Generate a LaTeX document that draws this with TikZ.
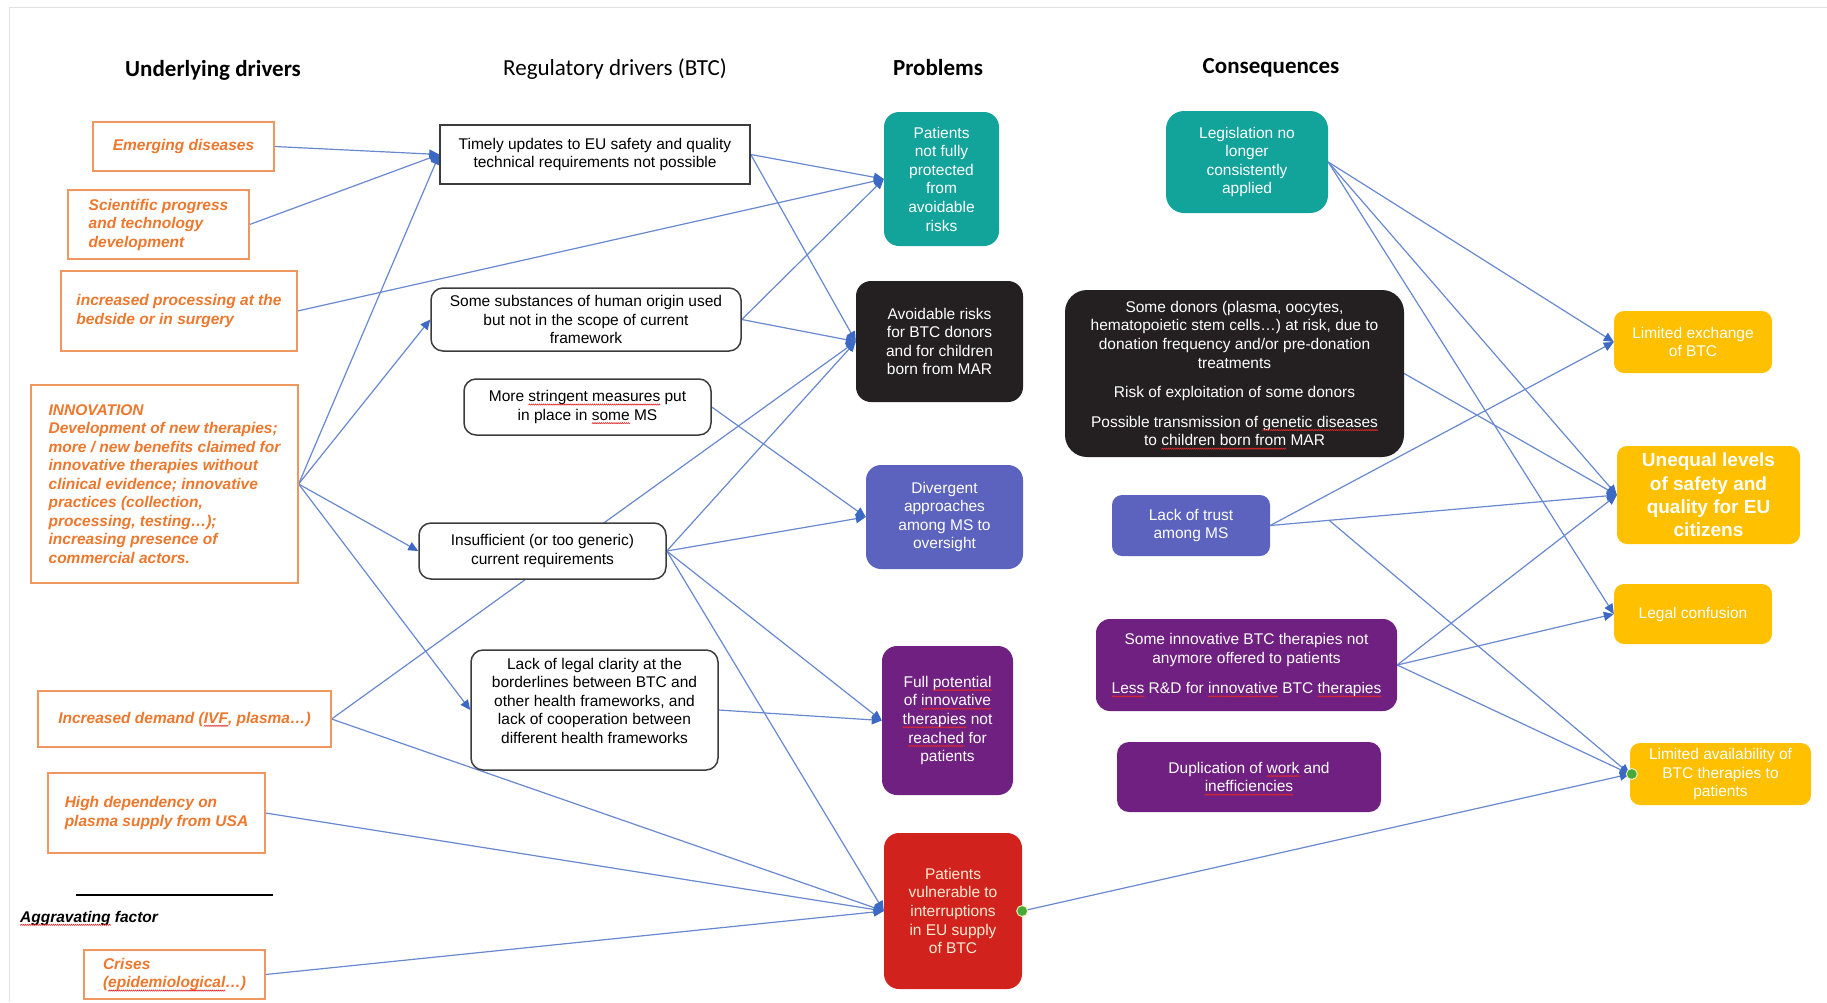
\documentclass[tikz,border=0pt]{standalone}
\usepackage{fontspec}
\setmainfont{Liberation Sans}
\newfontfamily\headfont{Carlito}
\usetikzlibrary{arrows.meta,calc,backgrounds}

\definecolor{drvtext}{RGB}{237,120,45}
\definecolor{drvline}{RGB}{240,150,95}
\definecolor{regline}{RGB}{60,60,60}
\definecolor{cteal}{RGB}{18,163,155}
\definecolor{cdark}{RGB}{36,31,32}
\definecolor{cslate}{RGB}{92,99,190}
\definecolor{cpurple}{RGB}{112,32,128}
\definecolor{cred}{RGB}{210,34,30}
\definecolor{cyellow}{RGB}{255,192,0}
\definecolor{linkblue}{RGB}{104,136,208}
\definecolor{tipblue}{RGB}{60,105,195}
\definecolor{redtext}{RGB}{255,236,210}
\definecolor{squig}{RGB}{225,40,40}
\definecolor{dotgreen}{RGB}{72,168,58}
\definecolor{dotring}{RGB}{238,240,190}
\definecolor{framegray}{RGB}{225,225,225}

% spell-checker style wavy underline, built from a repeated zigzag segment
\newsavebox\spellbox
\newsavebox\wavebox
\newcommand\spell[1]{\sbox\spellbox{#1}\leavevmode\rlap{\usebox\spellbox}%
  \raisebox{-3.5pt}[0pt][0pt]{\hbox to\wd\spellbox{\xleaders\copy\wavebox\hfil}}}

\newcommand\boxfont{\fontsize{15.5}{18.6}\selectfont}
\newcommand\drvfont{\fontsize{15.5}{18.5}\selectfont\bfseries\itshape}
\newcommand\headsize{\fontsize{23}{27}\selectfont}

\begin{document}
\sbox\wavebox{\begin{pgfpicture}
  \pgfpathrectangle{\pgfpointorigin}{\pgfpoint{2pt}{1.3pt}}
  \pgfusepath{use as bounding box}
  \pgfsetstrokecolor{squig}
  \pgfsetlinewidth{0.6pt}
  \pgfpathmoveto{\pgfpoint{0pt}{0pt}}
  \pgfpathlineto{\pgfpoint{1pt}{1.3pt}}
  \pgfpathlineto{\pgfpoint{2pt}{0pt}}
  \pgfusepath{stroke}
\end{pgfpicture}}%
\begin{tikzpicture}[x=1pt,y=-1pt,
  boxbase/.style={inner sep=0pt, font=\boxfont, align=center},
  drv/.style={boxbase, draw=drvline, line width=1.2pt, fill=white, text=drvtext, font=\drvfont, align=left},
  reg/.style={boxbase, draw=regline, line width=1.5pt, fill=white, rounded corners=12pt},
  regsharp/.style={boxbase, draw=regline, line width=1.5pt, fill=white},
  prob/.style={boxbase, rounded corners=15pt, text=white},
  cons/.style={boxbase, rounded corners=18pt, text=white},
  yel/.style={boxbase, rounded corners=10pt, fill=cyellow, text=white},
  conn/.style={draw=linkblue, line width=1.2pt, -{Triangle[length=10pt,width=9pt,color=tipblue]}},
  hd/.style={font=\headfont\headsize, inner sep=0pt},
  hdb/.style={font=\headfont\headsize\bfseries, inner sep=0pt},
  handle/.style={circle, fill=dotgreen, draw=dotring, line width=1pt, minimum size=11pt, inner sep=0pt}
]
\useasboundingbox (0,0) rectangle (1827,1002);
\begin{scope}[on background layer]
  \fill[white] (0,0) rectangle (1827,1002);
\end{scope}
\draw[framegray, line width=1pt] (9,1002) -- (9,7) -- (1827,7);

% column headings
\node[hdb] (hunder) at (213,70) {Underlying drivers};
\node[hd]  (hreg)   at (615,69) {Regulatory drivers (BTC)};
\node[hdb] (hprob)  at (938,68) {Problems};
\node[hdb] (hcons)  at (1271,68) {Consequences};

% underlying drivers
\node[drv, minimum width=181pt, minimum height=49pt] (emerg) at (183.5,146.5) {Emerging diseases};
\node[drv, minimum width=181pt, minimum height=69pt] (sci) at (158.5,224.5) {Scientific progress\\and technology\\development};
\node[drv, minimum width=236pt, minimum height=80pt] (proc) at (179,311) {increased processing at the\\bedside or in surgery};
\node[drv, minimum width=267pt, minimum height=198pt] (innovd) at (164.5,484) {INNOVATION\\Development of new therapies;\\more / new benefits claimed for\\innovative therapies without\\clinical evidence; innovative\\practices (collection,\\processing, testing…);\\increasing presence of\\commercial actors.};
\node[drv, minimum width=293pt, minimum height=56pt] (demand) at (184.5,719) {Increased demand (\spell{IVF}, plasma…)};
\node[drv, minimum width=217pt, minimum height=80pt] (plasma) at (156.5,813) {High dependency on\\plasma supply from USA};
\draw[black, line width=2pt] (76,895) -- (273,895);
\node[inner sep=0pt, anchor=west, font=\drvfont] (aggr) at (20,918) {\spell{Aggravating} factor};
\node[drv, minimum width=181pt, minimum height=49pt] (crises) at (174.5,974.5) {Crises\\(\spell{epidemiological}…)};

% regulatory drivers
\node[regsharp, minimum width=310pt, minimum height=59pt] (timely) at (595,154.5) {Timely updates to EU safety and quality\\technical requirements not possible};
\node[reg, minimum width=310pt, minimum height=63pt] (subst) at (586,319.5) {Some substances of human origin used\\but not in the scope of current\\framework};
\node[reg, minimum width=247pt, minimum height=56pt] (string) at (587.5,407) {More \spell{stringent measures} put\\in place in \spell{some} MS};
\node[reg, minimum width=247pt, minimum height=56pt] (insuff) at (542.5,551) {Insufficient (or too generic)\\current requirements};
\node[reg, minimum width=247pt, minimum height=120pt] (lcl) at (594.5,710) {Lack of legal clarity at the\\borderlines between BTC and\\other health frameworks, and\\lack of cooperation between\\different health frameworks\\ \mbox{}};

% problems
\node[prob, fill=cteal, minimum width=115pt, minimum height=134pt] (pnf) at (941.5,179) {Patients\\not fully\\protected\\from\\avoidable\\risks};
\node[prob, fill=cdark, minimum width=167pt, minimum height=121pt] (avoid) at (939.5,341.5) {Avoidable risks\\for BTC donors\\and for children\\born from MAR};
\node[prob, fill=cslate, minimum width=157pt, minimum height=104pt] (diverg) at (944.5,517) {Divergent\\approaches\\among MS to\\oversight};
\node[prob, fill=cpurple, minimum width=131pt, minimum height=149pt] (fullpot) at (947.5,720.5) {Full \spell{potential}\\of \spell{innovative}\\\spell{therapies} not\\\spell{reached} for\\patients};
\node[prob, fill=cred, text=redtext, minimum width=138pt, minimum height=156pt] (vuln) at (953,911) {Patients\\vulnerable to\\interruptions\\in EU supply\\of BTC};

% consequences
\node[cons, fill=cteal, minimum width=162pt, minimum height=102pt] (legis) at (1247,162) {Legislation no\\longer\\consistently\\applied};
\node[cons, fill=cdark, rounded corners=22pt, minimum width=339pt, minimum height=167pt] (donors) at (1234.5,373.5) {Some donors (plasma, oocytes,\\hematopoietic stem cells…) at risk, due to\\donation frequency and/or pre-donation\\treatments\\[11pt]Risk of exploitation of some donors\\[11pt]Possible transmission of \spell{genetic diseases}\\to \spell{children born from} MAR};
\node[cons, fill=cslate, rounded corners=10pt, minimum width=158pt, minimum height=61pt] (trust) at (1191,525.5) {Lack of trust\\among MS};
\node[cons, fill=cpurple, rounded corners=14pt, minimum width=301pt, minimum height=92pt] (innov) at (1246.5,665) {Some innovative BTC therapies not\\anymore offered to patients\\[12pt]\spell{Less} R\&D for \spell{innovative} BTC \spell{therapies}};
\node[cons, fill=cpurple, rounded corners=12pt, minimum width=264pt, minimum height=70pt] (dupl) at (1249,777) {Duplication of \spell{work} and\\\spell{inefficiencies}};

% end effects
\node[yel, minimum width=158pt, minimum height=62pt] (exch) at (1693,342) {Limited exchange\\of BTC};
\node[yel, font=\fontsize{19}{23.3}\selectfont\bfseries, minimum width=183pt, minimum height=98pt] (unequal) at (1708.5,495) {Unequal levels\\of safety and\\quality for EU\\citizens};
\node[yel, minimum width=158pt, minimum height=60pt] (legal) at (1693,614) {Legal confusion};
\node[yel, minimum width=181pt, minimum height=62pt] (avail) at (1720.5,774) {Limited availability of\\BTC therapies to\\patients};

\coordinate (trustfork) at ($(trust.east)!0.17!(unequal.west)$);

% connectors
\begin{scope}[on background layer]
  \draw[conn] (emerg.east) -- (timely.west);
  \draw[conn] (sci.east) -- (timely.west);
  \draw[conn] (innovd.east) -- (timely.west);
  \draw[conn] (innovd.east) -- (subst.west);
  \draw[conn] (innovd.east) -- (insuff.west);
  \draw[conn] (innovd.east) -- (lcl.west);
  \draw[conn] (proc.east) -- (pnf.west);
  \draw[conn] (demand.east) -- (avoid.west);
  \draw[conn] (demand.east) -- (vuln.west);
  \draw[conn] (plasma.east) -- (vuln.west);
  \draw[conn] (crises.east) -- (vuln.west);

  \draw[conn] (timely.east) -- (pnf.west);
  \draw[conn] (timely.east) -- (avoid.west);
  \draw[conn] (subst.east) -- (pnf.west);
  \draw[conn] (subst.east) -- (avoid.west);
  \draw[conn] (string.east) -- (diverg.west);
  \draw[conn] (insuff.east) -- (avoid.west);
  \draw[conn] (insuff.east) -- (diverg.west);
  \draw[conn] (insuff.east) -- (fullpot.west);
  \draw[conn] (insuff.east) -- (vuln.west);
  \draw[conn] (lcl.east) -- (fullpot.west);

  \draw[conn] (legis.east) -- (exch.west);
  \draw[conn] (legis.east) -- (unequal.west);
  \draw[conn] (legis.east) -- (legal.west);
  \draw[conn] (donors.east) -- (unequal.west);
  \draw[conn] (trust.east) -- (exch.west);
  \draw[conn] (trust.east) -- (unequal.west);
  \draw[conn] (trustfork) -- (avail.west);
  \draw[conn] (innov.east) -- (unequal.west);
  \draw[conn] (innov.east) -- (legal.west);
  \draw[conn] (innov.east) -- (avail.west);
  \draw[conn] (vuln.east) -- (avail.west);
\end{scope}

% selected connector handles
\node[handle] (hvuln) at (vuln.east) {};
\node[handle] (havail) at ([xshift=2pt]avail.west) {};
\end{tikzpicture}
\end{document}
